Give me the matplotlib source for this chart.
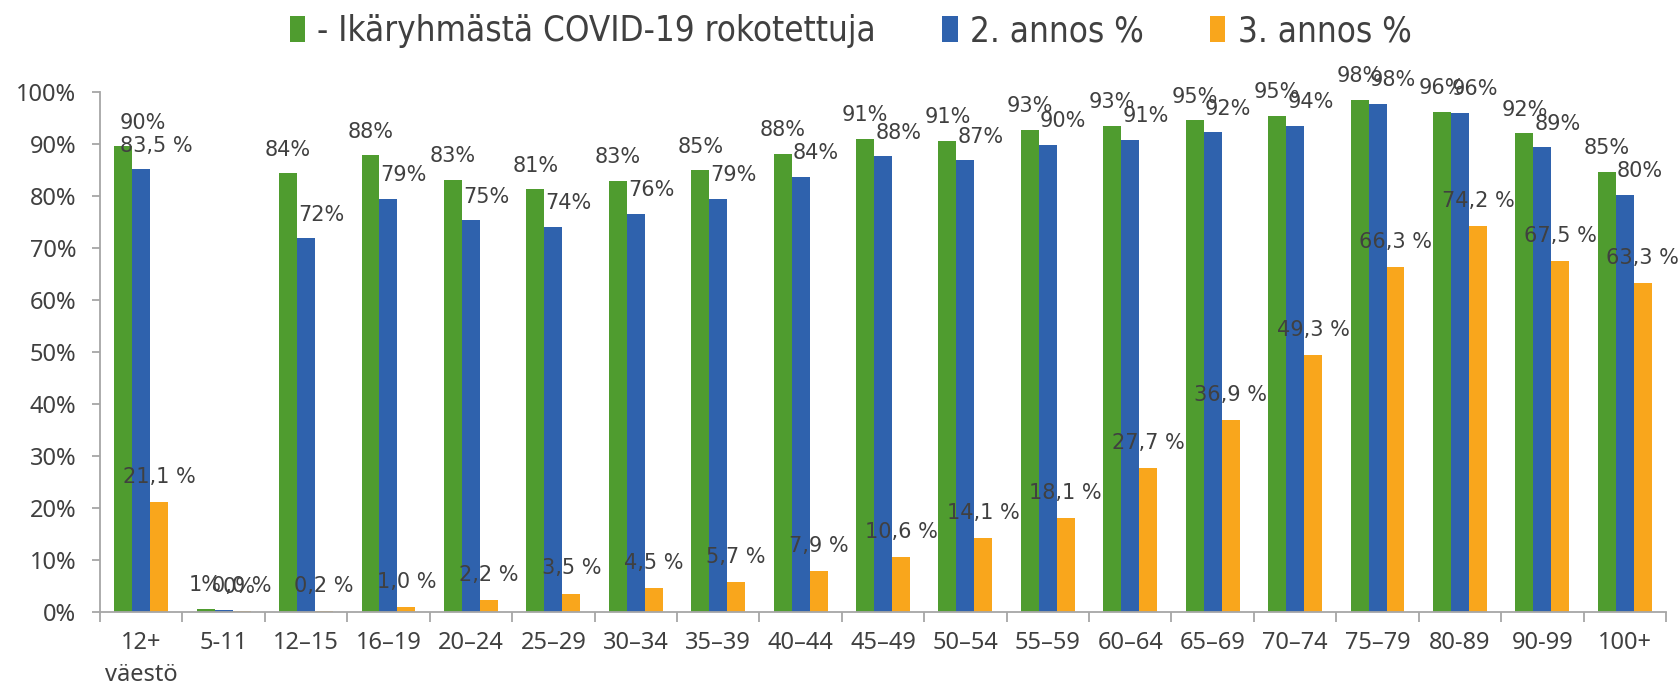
import matplotlib
matplotlib.use("Agg")
import matplotlib.pyplot as plt
from matplotlib.patches import Patch
import numpy as np

# age groups on the x axis
categories = ["12+\nväestö", "5-11", "12–15", "16–19", "20–24", "25–29", "30–34",
              "35–39", "40–44", "45–49", "50–54", "55–59", "60–64", "65–69",
              "70–74", "75–79", "80-89", "90-99", "100+"]

series_names = ["- Ikäryhmästä COVID-19 rokotettuja", "2. annos %", "3. annos %"]

# bar heights (%)
first_dose = [89.5, 0.6, 84.3, 87.8, 83.1, 81.2, 82.9, 84.9, 88.1, 91.0,
              90.5, 92.7, 93.4, 94.5, 95.4, 98.4, 96.1, 92.0, 84.6]
second_dose = [85.1, 0.3, 71.8, 79.4, 75.3, 74.0, 76.5, 79.4, 83.6, 87.6,
               86.8, 89.8, 90.8, 92.2, 93.5, 97.7, 95.9, 89.3, 80.2]
third_dose = [21.1, 0.2, 0.2, 1.0, 2.2, 3.5, 4.5, 5.7, 7.9, 10.6,
              14.1, 18.1, 27.7, 36.9, 49.3, 66.3, 74.2, 67.5, 63.3]

# data label texts as printed on the chart
first_labels = ["90%", "1%", "84%", "88%", "83%", "81%", "83%", "85%", "88%", "91%",
                "91%", "93%", "93%", "95%", "95%", "98%", "96%", "92%", "85%"]
second_labels = ["83,5 %", "0%", "72%", "79%", "75%", "74%", "76%", "79%", "84%", "88%",
                 "87%", "90%", "91%", "92%", "94%", "98%", "96%", "89%", "80%"]
third_labels = ["21,1 %", "0,0 %", "0,2 %", "1,0 %", "2,2 %", "3,5 %", "4,5 %", "5,7 %",
                "7,9 %", "10,6 %", "14,1 %", "18,1 %", "27,7 %", "36,9 %", "49,3 %",
                "66,3 %", "74,2 %", "67,5 %", "63,3 %"]

colors = ["#4f9c2f", "#2f62ad", "#f9a61c"]
text_color = "#404040"
axis_color = "#a6a6a6"

fig = plt.figure(figsize=(16.81, 6.91), dpi=100)
ax = fig.add_axes([100 / 1681, 1 - 611.7 / 691, 1566 / 1681, 520 / 691])

x = np.arange(len(categories))
w = 0.218
all_values = [first_dose, second_dose, third_dose]
all_labels = [first_labels, second_labels, third_labels]
label_offsets = [(0, 17), (11, 17), (0, 18)]  # points

for i, (vals, labs) in enumerate(zip(all_values, all_labels)):
    pos = x + (i - 1) * w
    ax.bar(pos, vals, width=w, color=colors[i], zorder=2)
    dx, dy = label_offsets[i]
    for j, (px, v, t) in enumerate(zip(pos, vals, labs)):
        if i == 0 and j == 0:
            dx0 = 14  # this one sits a bit to the right in the original
        else:
            dx0 = dx
        ax.annotate(t, (px, v), xytext=(dx0, dy), textcoords="offset points",
                    ha="center", va="center", fontsize=15, color=text_color,
                    family="DejaVu Sans", annotation_clip=False)

ax.set_xlim(-0.5, len(categories) - 0.5)
ax.set_ylim(0, 100)
ax.set_yticks(np.arange(0, 101, 10))
ax.set_yticklabels([f"{v}%" for v in range(0, 101, 10)])
ax.set_xticks(x)
ax.set_xticklabels(categories, linespacing=1.45)
ax.set_xticks(np.arange(-0.5, len(categories), 1), minor=True)

for s in ["top", "right"]:
    ax.spines[s].set_visible(False)
for s in ["left", "bottom"]:
    ax.spines[s].set_color(axis_color)
    ax.spines[s].set_linewidth(1.3)

ax.tick_params(axis="y", length=6, width=1.3, color=axis_color, pad=11,
               labelsize=17, labelcolor=text_color)
ax.tick_params(axis="x", which="major", length=0, pad=14,
               labelsize=17, labelcolor=text_color)
ax.tick_params(axis="x", which="minor", length=7, width=1.3, color=axis_color)
for lab in ax.get_xticklabels() + ax.get_yticklabels():
    lab.set_family("Noto Sans")

handles = [Patch(facecolor=c) for c in colors]
fig.legend(handles, series_names, loc="center", bbox_to_anchor=(0.506, 0.955),
           ncol=3, frameon=False, handlelength=0.45, handleheight=0.75,
           handletextpad=0.35, columnspacing=1.9,
           prop={"family": "DejaVu Sans", "stretch": "condensed", "size": 25},
           labelcolor=text_color)

fig.savefig("out.png", dpi=100)
